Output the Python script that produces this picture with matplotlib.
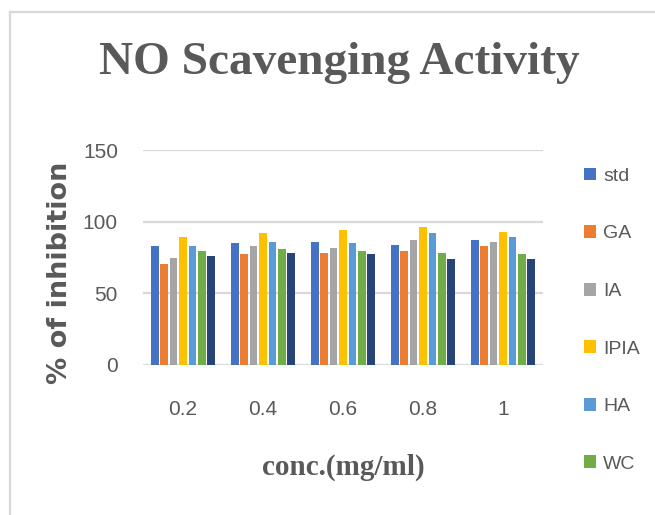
import matplotlib.pyplot as plt
from matplotlib.lines import Line2D
import numpy as np

conc = ['0.2', '0.4', '0.6', '0.8', '1']
series = ['std', 'GA', 'IA', 'IPIA', 'HA', 'WC', '']
std = [82.8, 85.2, 86.1, 84.0, 87.3]
ga = [70.6, 77.3, 78.2, 79.4, 82.8]
ia = [74.8, 82.8, 81.7, 87.3, 86.1]
ipia = [89.6, 91.9, 94.2, 96.3, 92.8]
ha = [82.8, 86.1, 85.2, 91.9, 89.6]
wc = [79.4, 80.6, 79.4, 78.2, 77.1]
last = [76.2, 78.2, 77.3, 73.8, 73.8]
values = [std, ga, ia, ipia, ha, wc, last]
colors = ['#4472C4', '#ED7D31', '#A5A5A5', '#FFC000', '#5B9BD5', '#70AD47', '#264478']

sans = ['Liberation Sans', 'DejaVu Sans']
serif = ['Liberation Serif', 'DejaVu Serif']
grey = '#595959'

fig = plt.figure(figsize=(6.55, 5.15), dpi=100)
ax = fig.add_axes([143 / 655, 1 - 365 / 515, 400 / 655, 215 / 515])

x = np.arange(len(conc))
pitch = 0.117
for i, (vals, col) in enumerate(zip(values, colors)):
    off = (i - 3) * pitch
    ax.bar(x + off, vals, width=0.095, color=col, label=series[i], zorder=3)

ax.set_xlim(-0.5, 4.5)
ax.set_ylim(0, 150)
ax.set_yticks([0, 50, 100, 150])
ax.set_xticks(x)
ax.set_xticklabels(conc)
ax.yaxis.grid(True, color='#D9D9D9', linewidth=1.6, zorder=0)
for s in ax.spines.values():
    s.set_visible(False)
ax.tick_params(length=0, colors=grey, labelsize=15)
ax.tick_params(axis='y', pad=18)
ax.tick_params(axis='x', pad=25)
for lab in ax.get_xticklabels() + ax.get_yticklabels():
    lab.set_family(sans)

ax.set_ylabel('% of inhibition', fontsize=19.5, fontweight='bold', color=grey,
              family=['DejaVu Sans'])
ax.yaxis.set_label_coords(-0.175, 0.43)
fig.text(343 / 655, 1 - 467 / 515, 'conc.(mg/ml)', fontsize=21, fontweight='bold',
         color=grey, family=serif, ha='center', va='center')
fig.text(339 / 655, 1 - 63 / 515, 'NO Scavenging Activity', fontsize=34,
         fontweight='bold', color=grey, family=serif, ha='center', va='center')

handles, labels = ax.get_legend_handles_labels()
leg = fig.legend(handles[:6], labels[:6], loc='upper left',
                 bbox_to_anchor=(566 / 655, 1 - 150 / 515), frameon=False,
                 labelspacing=2.07, handlelength=0.65, handleheight=0.65,
                 handletextpad=0.35, prop={'family': sans, 'size': 14})
for t in leg.get_texts():
    t.set_color(grey)

fig.add_artist(Line2D([10 / 655, 10 / 655], [0, 1 - 12 / 515], color='#D9D9D9',
                      linewidth=1.6, transform=fig.transFigure))
fig.add_artist(Line2D([10 / 655, 1], [1 - 12 / 515, 1 - 12 / 515], color='#D9D9D9',
                      linewidth=1.6, transform=fig.transFigure))

plt.savefig('out.png', dpi=100)
plt.close()
